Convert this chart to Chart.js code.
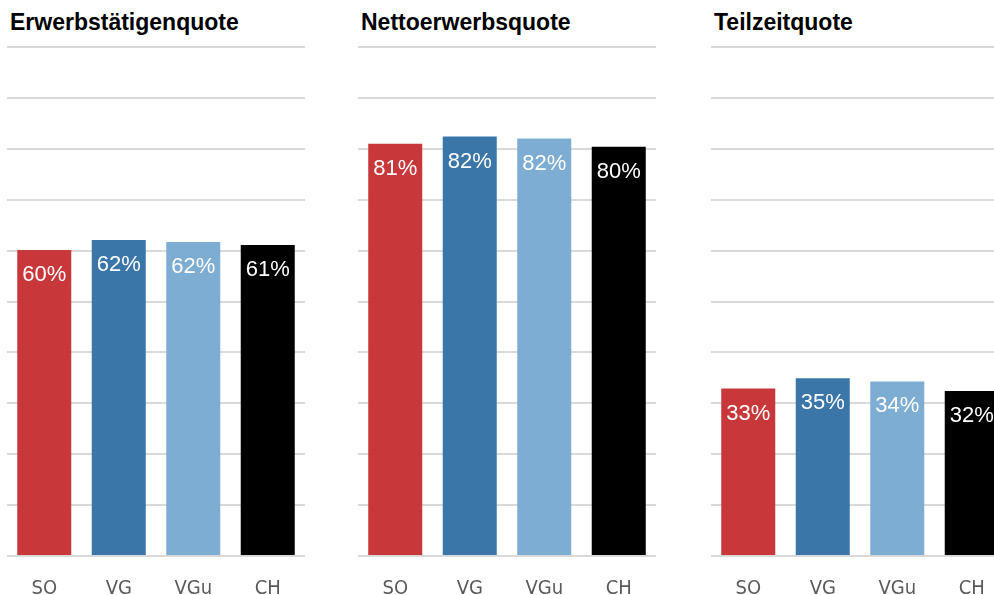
<!DOCTYPE html>
<html><head><meta charset="utf-8">
<script src="https://cdn.jsdelivr.net/npm/chart.js@4.4.1/dist/chart.umd.min.js"></script>
<style>
html,body{margin:0;padding:0;width:994px;height:595px;overflow:hidden;background:#fff;}
.panel{position:absolute;top:0;width:298px;height:595px;}
.title{position:absolute;top:9px;left:3px;font:bold 23px "Liberation Sans",Arial,sans-serif;color:#000;white-space:nowrap;}
.cv{position:absolute;top:40px;left:0;width:298px;height:555px;}
</style></head>
<body>
<div class="panel" style="left:7px"><div class="title">Erwerbstätigenquote</div><div class="cv"><canvas id="c1"></canvas></div></div>
<div class="panel" style="left:358px"><div class="title">Nettoerwerbsquote</div><div class="cv"><canvas id="c2"></canvas></div></div>
<div class="panel" style="left:711px"><div class="title">Teilzeitquote</div><div class="cv"><canvas id="c3"></canvas></div></div>
<script>
const categories = ["SO", "VG", "VGu", "CH"];
const erwerbstaetigenquote = [60.1, 62.1, 61.7, 61.1];
const nettoerwerbsquote = [81.0, 82.4, 82.0, 80.4];
const teilzeitquote = [32.9, 34.9, 34.3, 32.4];
const yTicks = [0, 10, 20, 30, 40, 50, 60, 70, 80, 90, 100];
const barColors = ["#c8373a", "#3a76a8", "#7eadd4", "#000000"];

const labelPlugin = {
  id: 'valLabels',
  afterDatasetsDraw(chart) {
    const ctx = chart.ctx;
    const meta = chart.getDatasetMeta(0);
    ctx.save();
    ctx.font = '22px "Liberation Sans", Arial, sans-serif';
    ctx.fillStyle = '#ffffff';
    ctx.textAlign = 'center';
    ctx.textBaseline = 'middle';
    meta.data.forEach((bar, i) => {
      const v = chart.data.datasets[0].data[i];
      ctx.fillText(Math.round(v) + '%', bar.x, bar.y + 25);
    });
    ctx.restore();
  }
};

function make(id, values) {
  new Chart(document.getElementById(id), {
    type: 'bar',
    data: {
      labels: categories,
      datasets: [{ data: values, backgroundColor: barColors, barPercentage: 0.725, categoryPercentage: 1 }]
    },
    options: {
      responsive: true,
      maintainAspectRatio: false,
      animation: false,
      layout: { padding: { top: 7, left: 0, right: 0, bottom: 0 } },
      plugins: { legend: { display: false }, tooltip: { enabled: false } },
      scales: {
        x: {
          grid: { display: false },
          border: { display: false },
          ticks: { color: '#595959', font: { family: '"DejaVu Sans Condensed", "Liberation Sans", Arial, sans-serif', size: 20 }, padding: 13 },
          afterFit(s) { s.height = 39; }
        },
        y: {
          min: 0, max: 100,
          afterBuildTicks(s) { s.ticks = yTicks.map(v => ({ value: v })); },
          grid: { color: '#d9d9d9', lineWidth: 2, drawTicks: false },
          border: { display: false },
          ticks: { display: false },
          afterFit(s) { s.width = 0; }
        }
      }
    },
    plugins: [labelPlugin]
  });
}
make('c1', erwerbstaetigenquote);
make('c2', nettoerwerbsquote);
make('c3', teilzeitquote);
</script>
</body></html>
